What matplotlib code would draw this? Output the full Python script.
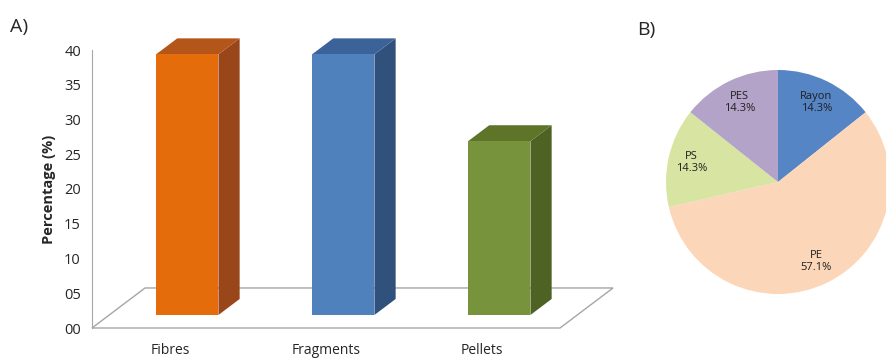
import numpy as np
import matplotlib.pyplot as plt
from matplotlib.patches import Polygon

plt.rcParams['font.family'] = ['Open Sans', 'DejaVu Sans']

# panel A data
categories = ["Fibres", "Fragments", "Pellets"]
percentages = [37.5, 37.5, 25.0]
yticks = [0, 5, 10, 15, 20, 25, 30, 35, 40]
ytick_labels = ["00", "05", "10", "15", "20", "25", "30", "35", "40"]

# panel B data
polymers = ["Rayon", "PE", "PS", "PES"]
shares = [14.3, 57.1, 14.3, 14.3]

front_colors = ["#E46C0A", "#4F81BD", "#77933C"]
top_colors = ["#B4561A", "#3C6399", "#5D7429"]
side_colors = ["#98461A", "#31517D", "#4E6223"]
pie_colors = ["#5685C6", "#FBD6B9", "#D7E4A2", "#B3A3C9"]

fig = plt.figure(figsize=(8.86, 3.58), dpi=100)
W, H = 886, 358

# ---------- A) pseudo-3D bar chart ----------
ax = fig.add_axes([92 / W, 30 / H, 520 / W, 278 / H])
ax.set_ylim(0, 40)
ax.set_xlim(-0.5, -0.5 + 520 / 156)

depth = np.array([0.34, 5.76])   # full floor depth (x units, y units)
f0, f1 = 0.325, 0.725           # bar front / back as fraction of depth
bw = 0.40

# floor
fl = [(-0.5, 0), (2.5, 0), (2.5 + depth[0], depth[1]), (-0.5 + depth[0], depth[1])]
ax.add_patch(Polygon(fl, closed=True, fill=False, edgecolor="#A6A6A6", lw=1.0,
                     clip_on=False, zorder=1))

for i, v in enumerate(percentages):
    ox, oy = f0 * depth
    bx, by = f1 * depth
    x0 = i - bw / 2 + ox
    x1 = i + bw / 2 + ox
    y0 = oy
    y1 = oy + v
    dx, dy = bx - ox, by - oy
    front = [(x0, y0), (x1, y0), (x1, y1), (x0, y1)]
    top = [(x0, y1), (x1, y1), (x1 + dx, y1 + dy), (x0 + dx, y1 + dy)]
    side = [(x1, y0), (x1 + dx, y0 + dy), (x1 + dx, y1 + dy), (x1, y1)]
    ax.add_patch(Polygon(side, closed=True, facecolor=side_colors[i], edgecolor="none",
                         clip_on=False, zorder=3))
    ax.add_patch(Polygon(top, closed=True, facecolor=top_colors[i], edgecolor="none",
                         clip_on=False, zorder=3))
    ax.add_patch(Polygon(front, closed=True, facecolor=front_colors[i], edgecolor="none",
                         clip_on=False, zorder=4))

for s in ["top", "right", "bottom"]:
    ax.spines[s].set_visible(False)
ax.spines["left"].set_color("#A6A6A6")
ax.set_yticks(yticks)
ax.set_yticklabels(ytick_labels, fontsize=10.5, color="#262626")
ax.set_xticks(range(len(categories)))
ax.set_xticklabels(categories, fontsize=10, color="#262626")
ax.tick_params(axis="both", length=0)
ax.tick_params(axis="y", pad=8)
ax.tick_params(axis="x", pad=11)
ax.set_ylabel("Percentage (%)", fontsize=10.5, fontweight="bold", color="#262626", labelpad=6)

fig.text(10 / W, 1 - 27 / H, "A)", fontsize=14, va="center", ha="left", color="#262626")
fig.text(637 / W, 1 - 30 / H, "B)", fontsize=14, va="center", ha="left", color="#262626")

# ---------- B) pie chart ----------
r = 112
axp = fig.add_axes([(778 - r) / W, (358 - 182 - r) / H, 2 * r / W, 2 * r / H])
wedges, texts = axp.pie(shares, colors=pie_colors, startangle=90, counterclock=False,
                        radius=1.0, wedgeprops=dict(linewidth=0))
for w, name, val in zip(wedges, polymers, shares):
    ang = np.deg2rad((w.theta1 + w.theta2) / 2)
    axp.text(0.79 * np.cos(ang), 0.79 * np.sin(ang), f"{name}\n{val:.1f}%",
             ha="center", va="center", fontsize=8, color="#1F1F1F", linespacing=1.1)
axp.set_xlim(-1, 1)
axp.set_ylim(-1, 1)
axp.set_aspect("equal")
axp.axis("off")

fig.savefig("out.png", dpi=100)
